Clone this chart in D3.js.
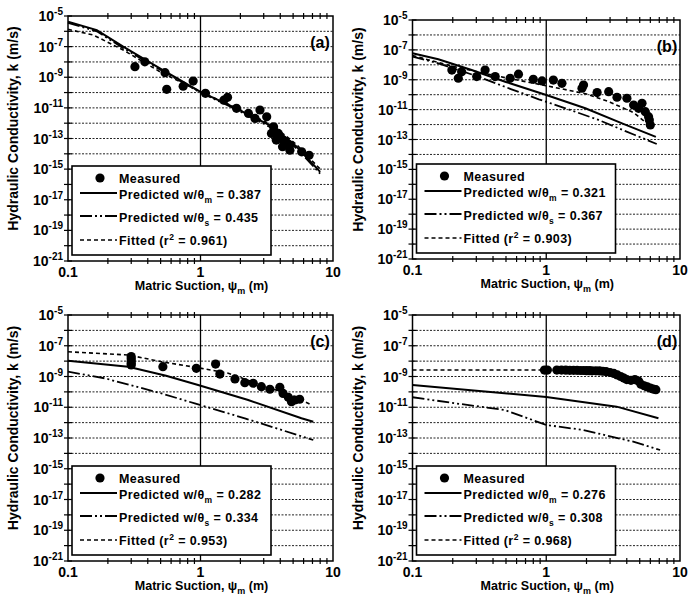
<!DOCTYPE html>
<html>
<head>
<meta charset="utf-8">
<script src="https://cdn.jsdelivr.net/npm/d3@7"></script>
<style>
  body { margin: 0; background: #fff; }
  svg { display: block; font-family: 'Liberation Sans', Arial, sans-serif; font-weight: bold; }
</style>
</head>
<body>
<div id="chart"></div>
<script>
// ---- data (x = matric suction in m, k given as log10 of m/s) ----
const panelNames = ['(a)', '(b)', '(c)', '(d)'];
const thetaM = ['0.387', '0.321', '0.282', '0.276'];
const thetaS = ['0.435', '0.367', '0.334', '0.308'];
const rSquared = ['0.961', '0.903', '0.953', '0.968'];

const xTickLabels = [0.1, 1, 10];
const yLabelExps = [-5, -7, -9, -11, -13, -15, -17, -19, -21];

// panel (a)
const measuredA = [[0.32, -8.31], [0.38, -7.99], [0.54, -8.7], [0.556, -9.79], [0.74, -9.58], [0.88, -9.25],
  [1.09, -10.05], [1.5, -10.5], [1.6, -10.31], [1.87, -11.03], [2.3, -11.36], [2.58, -11.69], [2.81, -11.14],
  [3.16, -11.58], [3.43, -12.67], [3.56, -12.24], [3.73, -13.1], [3.86, -12.67], [4.16, -13.54], [4.2, -13.1],
  [4.5, -13.32], [4.73, -13.43], [4.73, -13.76], [5.8, -13.87], [6.6, -14.1]];
const predMA = [[0.1, -5.37], [0.165, -5.92], [0.261, -7.0], [0.494, -8.42], [1, -9.95], [1.76, -10.93],
  [3.52, -12.24], [5.32, -13.54], [8.0, -15.18]];
const predSA = [[0.1, -5.45], [0.165, -6.0], [0.261, -7.1], [0.494, -8.5], [1, -10.0], [1.76, -11.0],
  [3.52, -12.35], [5.32, -13.65], [8.0, -15.3]];
const fitA = [[0.1, -5.87], [0.155, -6.24], [0.261, -7.22], [0.494, -8.64], [1, -9.95], [1.76, -10.9],
  [3.52, -12.15], [5.32, -13.4], [8.0, -15.0]];

// panel (b)
const measuredB = [[0.197, -8.35], [0.22, -8.9], [0.233, -8.46], [0.302, -8.79], [0.349, -8.35], [0.415, -8.79],
  [0.537, -8.9], [0.62, -8.63], [0.8, -8.97], [0.93, -9.08], [1.13, -9.02], [1.31, -9.24], [1.85, -9.57],
  [1.9, -9.35], [2.4, -9.86], [2.93, -9.8], [3.38, -10.17], [4.01, -10.24], [4.5, -10.69], [4.9, -10.91],
  [5.2, -10.58], [5.5, -11.14], [5.82, -11.47], [5.9, -11.7], [6.0, -12.03]];
const predMB = [[0.1, -7.23], [0.156, -7.63], [0.277, -8.35], [0.493, -9.13], [1, -10.02], [1.96, -10.91],
  [3.69, -11.92], [6.6, -12.82]];
const predSB = [[0.1, -7.45], [0.156, -7.9], [0.3, -8.75], [0.55, -9.64], [0.88, -10.31], [1.39, -10.91],
  [2.46, -11.69], [4.6, -12.7], [6.7, -13.3]];
const fitB = [[0.1, -7.38], [0.2, -8.1], [0.4, -8.7], [1, -9.4], [2, -9.95], [3, -10.5], [4.5, -11.2], [6.0, -12.1]];

// panel (c)
const measuredC = [[0.3, -7.7], [0.3, -7.85], [0.3, -8.0], [0.3, -8.15], [0.3, -8.25], [0.52, -8.36],
  [0.93, -8.47], [1.3, -8.19], [1.4, -8.84], [1.82, -9.16], [2.16, -9.4], [2.5, -9.44], [2.88, -9.66],
  [3.34, -9.83], [3.97, -9.7], [4.2, -10.1], [4.6, -10.35], [4.86, -10.64], [5.15, -10.53], [5.6, -10.48]];
const predMC = [[0.1, -7.97], [0.285, -8.36], [0.55, -8.95], [0.96, -9.55], [2.29, -10.53], [5.78, -11.72],
  [7.1, -11.94]];
const predSC = [[0.1, -8.69], [0.19, -9.12], [0.508, -10.1], [0.905, -10.75], [2.16, -11.72], [7.1, -13.13]];
const fitC = [[0.1, -7.39], [0.285, -7.6], [0.508, -8.04], [1.02, -8.47], [1.62, -8.79], [2.88, -9.55],
  [5.15, -10.31], [6.88, -10.85]];

// panel (d)
const measuredD = [[0.97, -8.58], [1.02, -8.58], [1.2, -8.58], [1.3, -8.58], [1.4, -8.59], [1.5, -8.6],
  [1.6, -8.6], [1.7, -8.6], [1.8, -8.61], [1.9, -8.61], [2.0, -8.62], [2.1, -8.62], [2.2, -8.63],
  [2.35, -8.63], [2.5, -8.64], [2.65, -8.66], [2.8, -8.68], [3.0, -8.74], [3.2, -8.8], [3.4, -8.9],
  [3.6, -9.0], [3.8, -9.1], [4.0, -9.2], [4.3, -9.25], [4.6, -9.2], [4.9, -9.3], [5.1, -9.5], [5.4, -9.6],
  [5.7, -9.68], [6.0, -9.75], [6.3, -9.82], [6.6, -9.86]];
const predMD = [[0.1, -9.55], [1, -10.33], [3.36, -10.96], [6.9, -11.72]];
const predSD = [[0.1, -10.35], [0.208, -10.74], [0.49, -11.18], [1, -12.15], [1.89, -12.48], [4.47, -13.24],
  [7.1, -13.78]];
const fitD = [[0.1, -8.58], [1, -8.58], [2.75, -8.69], [3.66, -9.0], [4.88, -9.23], [6.16, -9.77], [6.7, -9.88]];

const measured = [measuredA, measuredB, measuredC, measuredD];
const predM = [predMA, predMB, predMC, predMD];
const predS = [predSA, predSB, predSC, predSD];
const fitted = [fitA, fitB, fitC, fitD];

// ---- layout ----
const W = 700, H = 603;
const frames = [
  { left: 68, right: 333, top: 16, bottom: 261 },
  { left: 412.5, right: 680, top: 20, bottom: 259 },
  { left: 68, right: 333, top: 315, bottom: 561 },
  { left: 412.5, right: 680, top: 315, bottom: 561 },
];

const svg = d3.select('#chart').append('svg').attr('width', W).attr('height', H);

const solidStyle = { dash: null, width: 2 };
const dashDotStyle = { dash: '12,3,2,3,2,3', width: 1.8 };
const fitStyle = { dash: '4,3', width: 1.6 };

frames.forEach((f, i) => {
  const g = svg.append('g');
  const x = d3.scaleLog().domain([0.1, 10]).range([f.left, f.right]);
  const y = d3.scaleLog().domain([1e-21, 1e-5]).range([f.bottom, f.top]);

  // horizontal dotted grid at every decade
  const decades = d3.range(-20, -5);
  g.selectAll('.grid').data(decades).join('line')
    .attr('x1', f.left).attr('x2', f.right)
    .attr('y1', (d) => y(Math.pow(10, d))).attr('y2', (d) => y(Math.pow(10, d)))
    .attr('stroke', '#222').attr('stroke-width', 1).attr('stroke-dasharray', '2,1.5');

  // vertical line at 1
  g.append('line')
    .attr('x1', x(1)).attr('x2', x(1)).attr('y1', f.top).attr('y2', f.bottom)
    .attr('stroke', '#000').attr('stroke-width', 1.3);

  // frame
  g.append('rect')
    .attr('x', f.left).attr('y', f.top)
    .attr('width', f.right - f.left).attr('height', f.bottom - f.top)
    .attr('fill', 'none').attr('stroke', '#000').attr('stroke-width', 1.5);

  // minor ticks across top and bottom
  const minor = [];
  [0.1, 1].forEach((base) => {
    for (let m = 2; m <= 9; m++) minor.push(base * m);
  });
  [f.top, f.bottom].forEach((yy) => {
    g.selectAll(null).data(minor).join('line')
      .attr('x1', (d) => x(d)).attr('x2', (d) => x(d))
      .attr('y1', yy - 3).attr('y2', yy + 3)
      .attr('stroke', '#000').attr('stroke-width', 1.2);
  });
  // left ticks at each decade
  g.selectAll(null).data(d3.range(-21, -4)).join('line')
    .attr('x1', f.left - 4).attr('x2', f.left + 4)
    .attr('y1', (d) => y(Math.pow(10, d))).attr('y2', (d) => y(Math.pow(10, d)))
    .attr('stroke', '#000').attr('stroke-width', 1.2);

  // y tick labels
  const yl = g.selectAll(null).data(yLabelExps).join('text')
    .attr('x', f.left - 5).attr('y', (d) => y(Math.pow(10, d)) + 5)
    .attr('text-anchor', 'end').attr('font-size', 14);
  yl.append('tspan').text('10');
  yl.append('tspan').attr('font-size', 10).attr('dy', -6).text((d) => d);

  // x tick labels
  g.selectAll(null).data(xTickLabels).join('text')
    .attr('x', (d) => x(d)).attr('y', f.bottom + 16)
    .attr('text-anchor', 'middle').attr('font-size', 14)
    .text((d) => d);

  // axis titles
  const xt = g.append('text')
    .attr('x', (f.left + f.right) / 2 + 1).attr('y', f.bottom + 29)
    .attr('text-anchor', 'middle').attr('font-size', 12.5);
  xt.append('tspan').text('Matric Suction, \u03c8');
  xt.append('tspan').attr('font-size', 9).attr('dy', 4).text('m');
  xt.append('tspan').attr('dy', -4).text(' (m)');

  g.append('text')
    .attr('transform', `translate(${f.left - 50},${(f.top + f.bottom) / 2 - 10}) rotate(-90)`)
    .attr('text-anchor', 'middle').attr('font-size', 14)
    .text('Hydraulic Conductivity, k (m/s)');

  // curves
  const line = d3.line().x((d) => x(d[0])).y((d) => y(Math.pow(10, d[1])));
  const drawCurve = (data, st) => {
    g.append('path').datum(data).attr('d', line)
      .attr('fill', 'none').attr('stroke', '#000')
      .attr('stroke-width', st.width).attr('stroke-dasharray', st.dash);
  };
  drawCurve(fitted[i], fitStyle);
  drawCurve(predS[i], dashDotStyle);
  drawCurve(predM[i], solidStyle);

  g.selectAll(null).data(measured[i]).join('circle')
    .attr('cx', (d) => x(d[0])).attr('cy', (d) => y(Math.pow(10, d[1])))
    .attr('r', 4.6).attr('fill', '#000');

  // panel letter
  g.append('text')
    .attr('x', f.right - 13).attr('y', f.top + 32)
    .attr('text-anchor', 'middle').attr('font-size', 16)
    .text(panelNames[i]);

  // legend
  const lx = f.left + 4, ly = f.bottom - 95, lw = 199, lh = 89;
  const fs = 12.5;
  const lg = g.append('g').attr('transform', `translate(${lx},${ly})`);
  lg.append('rect').attr('width', lw).attr('height', lh)
    .attr('fill', '#fff').attr('stroke', '#000').attr('stroke-width', 1.6);
  lg.append('circle').attr('cx', 28).attr('cy', 12).attr('r', 4.6).attr('fill', '#000');
  lg.append('text').attr('x', 47).attr('y', 16.5).attr('font-size', fs)
    .attr('letter-spacing', 0.4).text('Measured');

  const rows = [
    { st: solidStyle, y: 27, sub: 'm', val: thetaM[i] },
    { st: dashDotStyle, y: 50, sub: 's', val: thetaS[i] },
  ];
  rows.forEach((r) => {
    lg.append('line').attr('x1', 8).attr('x2', 45).attr('y1', r.y).attr('y2', r.y)
      .attr('stroke', '#000').attr('stroke-width', r.st.width).attr('stroke-dasharray', r.st.dash);
    const t = lg.append('text').attr('x', 47).attr('y', r.y + 5.5).attr('font-size', fs)
      .attr('letter-spacing', 0.4);
    t.append('tspan').text('Predicted w/\u03b8');
    t.append('tspan').attr('font-size', 8.5).attr('dy', 4).text(r.sub);
    t.append('tspan').attr('dy', -4).text(' = ' + r.val);
  });
  lg.append('line').attr('x1', 8).attr('x2', 45).attr('y1', 74).attr('y2', 74)
    .attr('stroke', '#000').attr('stroke-width', fitStyle.width).attr('stroke-dasharray', fitStyle.dash);
  const ft = lg.append('text').attr('x', 47).attr('y', 79).attr('font-size', fs)
    .attr('letter-spacing', 0.4);
  ft.append('tspan').text('Fitted  (r');
  ft.append('tspan').attr('font-size', 8.5).attr('dy', -5).text('2');
  ft.append('tspan').attr('dy', 5).text(' = ' + rSquared[i] + ')');
});
</script>
</body>
</html>
